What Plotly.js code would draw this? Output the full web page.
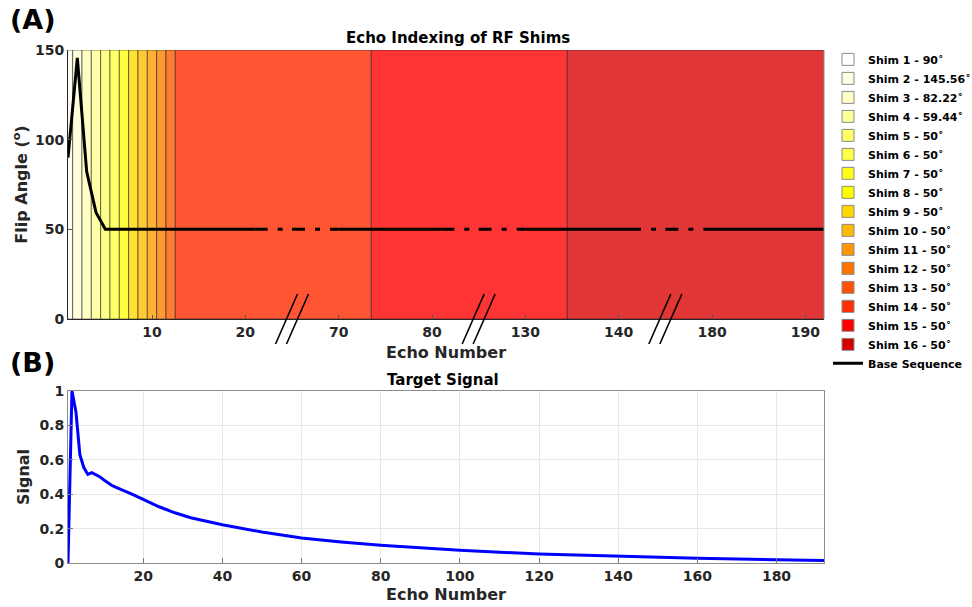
<!DOCTYPE html>
<html>
<head>
<meta charset="utf-8">
<script src="https://cdn.plot.ly/plotly-3.0.1.min.js"></script>
<style>
html,body{margin:0;padding:0;background:#ffffff;}
#chart{width:972px;height:607px;}
</style>
</head>
<body>
<div id="chart"></div>
<script>
// ---------------- DATA ----------------
const shimNumbers   = [1,2,3,4,5,6,7,8,9,10,11,12,13,14,15,16];
const shimAngles    = [90,145.56,82.22,59.44,50,50,50,50,50,50,50,50,50,50,50,50];
// echoes covered by each shim (shim 16 not visible in the echo train)
const shimFirstEcho = [1,2,3,4,5,6,7,8,9,10,11,12,13,74,135,null];
const shimLastEcho  = [1,2,3,4,5,6,7,8,9,10,11,12,73,134,192,null];

// base sequence flip angles (degrees) vs echo number
const baseEchoes = [1,2,3,4,5,192];
const baseFlip   = [90,145.56,82.22,59.44,50,50];

// target signal vs echo number
const signalEchoes = [1,2,3,4,5,6,7,8,9,10,11,12,13,15,17,20,24,28,32,40,50,60,70,80,90,100,120,140,160,180,192];
const signalValues = [0,1.0,0.88,0.63,0.555,0.515,0.525,0.515,0.502,0.484,0.466,0.452,0.441,0.423,0.402,0.37,0.327,0.292,0.263,0.222,0.18,0.146,0.122,0.103,0.087,0.074,0.052,0.038,0.028,0.019,0.015];

// tick labels
const topTicks    = [10,20,70,80,130,140,180,190];
const flipTicks   = [0,50,100,150];
const bottomTicks = [20,40,60,80,100,120,140,160,180];
const signalTicks = [0,0.2,0.4,0.6,0.8,1];

// ---------------- STYLE ----------------
const segments   = [[1,25],[65,85],[125,145],[175,192]];   // broken top axis
const solidZones = [[1,21],[70,81],[130,141],[180,192]];   // where base line is solid
const flipRange  = [0,150];
const stripeColors = ['#fbfbf4','#ffffdc','#ffffc4','#ffffa6','#ffff88','#ffff66','#ffff40',
                      '#ffe233','#ffca33','#ffb133','#ff9933','#ff7a33','#ff5533','#ff3434','#e03636','#d63333'];
const legendColors = ['#ffffff','#ffffe3','#ffffc8','#ffff99','#ffff66','#ffff4a','#ffff1c','#ffff00',
                      '#ffd800','#ffb800','#ff9600','#ff7400','#ff5200','#ff2c00','#ff0000','#d40000'];
const FONT = 'DejaVu Sans';
const TXT = '#262626';

const L = 68, R = 148, T = 50, B = 44, W = 972, H = 607;
const plotW = W - L - R, plotH = H - T - B;
const topDomain = [(H - B - 319) / plotH, 1];
const botDomain = [0, (H - B - 391) / plotH];

// domains of the broken-axis segments, proportional to their spans
const spans = segments.map(s => s[1] - s[0]);
const totalSpan = spans.reduce((a, b) => a + b, 0);
const unitsPerPx = totalSpan / plotW;
const OV = 2; // px overlap between neighbouring segments (same scale) to avoid seams
const segDomains = [], segRanges = [];
let acc = 0;
spans.forEach((sp, j) => {
  const ov = j === 0 ? 0 : OV;
  segDomains.push([acc / totalSpan - ov / plotW, (acc + sp) / totalSpan]);
  segRanges.push([segments[j][0] - ov * unitsPerPx, segments[j][1]]);
  acc += sp;
});

function axName(i) { return i === 0 ? 'x' : 'x' + (i + 1); }

function clipLine(xs, ys, lo, hi) {
  const ox = [], oy = [];
  for (let i = 0; i < xs.length - 1; i++) {
    const x0 = xs[i], x1 = xs[i + 1], y0 = ys[i], y1 = ys[i + 1];
    const a = Math.max(x0, lo), b = Math.min(x1, hi);
    if (a > b) continue;
    const f = x => (x1 === x0 ? y0 : y0 + (y1 - y0) * (x - x0) / (x1 - x0));
    if (ox.length === 0 || ox[ox.length - 1] !== a) { ox.push(a); oy.push(f(a)); }
    ox.push(b); oy.push(f(b));
  }
  return [ox, oy];
}

const traces = [];

// legend entries for shims
shimNumbers.forEach((n, i) => {
  traces.push({
    type: 'bar', x: [null], y: [null], xaxis: 'x', yaxis: 'y',
    name: 'Shim ' + n + ' - ' + shimAngles[i] + '˚',
    marker: {color: legendColors[i], line: {color: '#8a8a8a', width: 1}},
    showlegend: true, hoverinfo: 'skip'
  });
});

// shim regions drawn on every segment they overlap
shimNumbers.forEach((n, i) => {
  if (shimFirstEcho[i] === null) return;
  const lo = shimFirstEcho[i] - 0.5, hi = shimLastEcho[i] + 0.5;
  segRanges.forEach((seg, j) => {
    if (hi <= seg[0] || lo >= seg[1]) return;
    traces.push({
      type: 'bar', x: [(lo + hi) / 2], y: [flipRange[1]], width: [hi - lo],
      xaxis: axName(j), yaxis: 'y',
      marker: {color: stripeColors[i], line: {color: 'rgba(30,30,30,0.7)', width: 0.8}},
      showlegend: false, hoverinfo: 'skip'
    });
  });
});

// base sequence line: solid inside, dash-dot near the axis breaks
let legendShown = false;
segRanges.forEach((seg, j) => {
  const sz = solidZones[j];
  const [sx, sy] = clipLine(baseEchoes, baseFlip, sz[0], sz[1]);
  traces.push({
    type: 'scatter', mode: 'lines', x: sx, y: sy, xaxis: axName(j), yaxis: 'y',
    line: {color: '#000000', width: 3},
    name: 'Base Sequence', showlegend: !legendShown, hoverinfo: 'skip'
  });
  legendShown = true;
  const dz = [];
  if (sz[0] > seg[0]) dz.push([segments[j][0], sz[0]]);
  if (sz[1] < seg[1]) dz.push([sz[1], seg[1]]);
  dz.forEach(z => {
    const [dx, dy] = clipLine(baseEchoes, baseFlip, z[0], z[1]);
    traces.push({
      type: 'scatter', mode: 'lines', x: dx, y: dy, xaxis: axName(j), yaxis: 'y',
      line: {color: '#000000', width: 3, dash: '13px,10px,5px,10px'},
      showlegend: false, hoverinfo: 'skip'
    });
  });
});

// target signal
traces.push({
  type: 'scatter', mode: 'lines', x: signalEchoes, y: signalValues,
  xaxis: 'x5', yaxis: 'y2', line: {color: '#0000ff', width: 3},
  showlegend: false, hoverinfo: 'skip'
});

const tickFont = {family: FONT, size: 14, color: TXT, weight: 'bold'};

const layout = {
  width: W, height: H,
  margin: {l: L, r: R, t: T, b: B, pad: 0, autoexpand: false},
  paper_bgcolor: '#ffffff', plot_bgcolor: 'rgba(0,0,0,0)',
  font: {family: FONT, size: 13, color: TXT, weight: 'bold'},
  barmode: 'overlay', bargap: 0,
  showlegend: true,
  legend: {
    x: (828 - L) / plotW, xanchor: 'left', y: 1.01, yanchor: 'top',
    font: {family: FONT, size: 11, color: '#000000', weight: 'bold'},
    bgcolor: 'rgba(255,255,255,0)', borderwidth: 0, itemwidth: 30,
    tracegroupgap: 0, maxheight: 560
  },
  yaxis: {
    domain: topDomain, anchor: 'x', range: flipRange, tickvals: flipTicks,
    showline: true, linecolor: TXT, linewidth: 1, ticks: 'inside', ticklen: 4, tickcolor: '#555',
    showgrid: false, zeroline: false, tickfont: tickFont, fixedrange: true,
    title: {text: 'Flip Angle (<sup>o</sup>)', font: {family: FONT, size: 16, color: TXT, weight: 'bold'}, standoff: 3}
  },
  yaxis2: {
    domain: botDomain, anchor: 'x5', range: [0, 1], tickvals: signalTicks,
    showline: true, mirror: true, linecolor: '#8c8c8c', linewidth: 1, ticks: 'inside', ticklen: 5, tickcolor: '#777',
    showgrid: true, gridcolor: '#e8e8e8', zeroline: false, tickfont: tickFont,
    title: {text: 'Signal', font: {family: FONT, size: 16, color: TXT, weight: 'bold'}, standoff: 5}
  },
  xaxis5: {
    domain: [0, 1], anchor: 'y2', range: [1, 192], tickvals: bottomTicks,
    showline: true, mirror: true, linecolor: '#8c8c8c', linewidth: 1, ticks: 'inside', ticklen: 5, tickcolor: '#777',
    showgrid: true, gridcolor: '#e8e8e8', zeroline: false, tickfont: tickFont,
    title: {text: 'Echo Number', font: {family: FONT, size: 16, color: TXT, weight: 'bold'}, standoff: 6}
  },
  shapes: [],
  annotations: [
    {text: '(A)', xref: 'paper', yref: 'paper', x: (8 - L) / plotW, y: (H - B - 20) / plotH,
     xanchor: 'left', yanchor: 'middle', showarrow: false, font: {family: FONT, size: 27, color: '#000', weight: 'bold'}},
    {text: '(B)', xref: 'paper', yref: 'paper', x: (8 - L) / plotW, y: (H - B - 362) / plotH,
     xanchor: 'left', yanchor: 'middle', showarrow: false, font: {family: FONT, size: 27, color: '#000', weight: 'bold'}},
    {text: 'Echo Indexing of RF Shims', xref: 'paper', yref: 'paper', x: (458 - L) / plotW, y: (H - B - 38) / plotH,
     xanchor: 'center', yanchor: 'middle', showarrow: false, font: {family: FONT, size: 15, color: '#000', weight: 'bold'}},
    {text: 'Target Signal', xref: 'paper', yref: 'paper', x: (443 - L) / plotW, y: (H - B - 380) / plotH,
     xanchor: 'center', yanchor: 'middle', showarrow: false, font: {family: FONT, size: 15, color: '#000', weight: 'bold'}},
    {text: 'Echo Number', xref: 'paper', yref: 'paper', x: (446 - L) / plotW, y: (H - B - 352) / plotH,
     xanchor: 'center', yanchor: 'middle', showarrow: false, font: {family: FONT, size: 16, color: TXT, weight: 'bold'}}
  ]
};

segRanges.forEach((seg, j) => {
  layout['xaxis' + (j === 0 ? '' : (j + 1))] = {
    domain: segDomains[j], anchor: 'y', range: seg,
    tickvals: topTicks.filter(t => t >= seg[0] && t <= seg[1]),
    showline: true, linecolor: TXT, linewidth: 1, ticks: 'inside', ticklen: 4, tickcolor: '#555',
    showgrid: false, zeroline: false, tickfont: tickFont, fixedrange: true
  };
});

// right border of top panel
layout.shapes.push({type: 'line', xref: 'paper', yref: 'paper', x0: 1, x1: 1, y0: topDomain[0], y1: 1,
  line: {color: '#8c8c8c', width: 1}});

// axis-break markers (two slanted strokes at each segment boundary)
for (let j = 1; j < segments.length; j++) {
  const bx = segDomains[j][0] + OV / plotW;
  [[5.5, -16.5], [16.5, -5.5]].forEach(p => {
    layout.shapes.push({
      type: 'line', xref: 'paper', yref: 'paper',
      xsizemode: 'pixel', xanchor: bx, x0: p[0], x1: p[1],
      ysizemode: 'pixel', yanchor: topDomain[0], y0: 25, y1: -25,
      line: {color: '#000000', width: 1.6}
    });
  });
}

Plotly.newPlot('chart', traces, layout, {displayModeBar: false, staticPlot: true});
</script>
</body>
</html>
